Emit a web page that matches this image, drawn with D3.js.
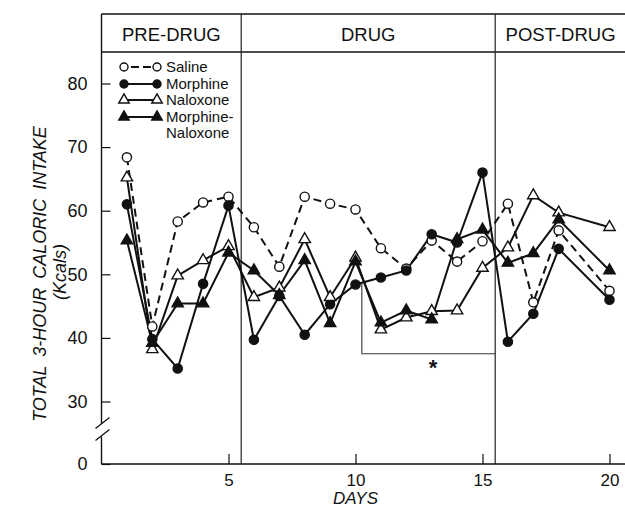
<!DOCTYPE html>
<html><head><meta charset="utf-8">
<script src="https://cdn.jsdelivr.net/npm/d3@7"></script>
<style>
html,body{margin:0;padding:0;background:#fff;}
svg{display:block;font-family:"Liberation Sans",Arial,sans-serif;}
</style></head>
<body>
<svg id="c" width="625" height="513"></svg>
<script>
// ---- data ----
const days = [1,2,3,4,5,6,7,8,9,10,11,12,13,14,15,16,17,18,20];
const saline    = [68.4,41.8,58.3,61.3,62.2,57.4,51.2,62.2,61.1,60.2,54.1,50.9,55.3,52.0,55.2,61.1,45.6,56.9,47.4];
const morphine  = [61.0,39.8,35.2,48.5,60.8,39.7,46.6,40.5,45.3,48.4,49.5,50.6,56.3,55.0,66.0,39.4,43.8,54.0,46.0];
const naloxone  = [65.2,38.2,49.8,52.2,54.4,46.4,47.9,55.5,46.4,52.6,41.3,43.2,44.2,44.3,51.0,54.2,62.4,59.7,57.4];
const morphNal  = [55.3,39.2,45.4,45.4,53.4,50.6,46.7,52.2,42.3,52.0,42.4,44.3,42.9,55.5,57.0,51.8,53.3,58.6,50.6];
const seriesNames = ["Saline","Morphine","Naloxone","Morphine-\nNaloxone"];
const yTicks = [0,30,40,50,60,70,80];
const xTicks = [5,10,15,20];
const phases = [{label:"PRE-DRUG",from:0,to:5.5},{label:"DRUG",from:5.5,to:15.5},{label:"POST-DRUG",from:15.5,to:21}];
const phaseBounds = [5.5,15.5];
const bracket = {from:10.25,to:15.5,level:37.5,top:48.5};
const starPos = {day:13.05,value:35.6};

// ---- layout ----
const svg = d3.select("#c");
const x = d3.scaleLinear().domain([0,20]).range([101.5,609.5]);
const y = d3.scaleLinear().domain([0,30,80]).range([464,401.5,83.5]);
const boxTop = 14, headBottom = 52, rightEdge = 626;

const styles = [
  {open:true, shape:"circle", dash:"8,5"},
  {open:false,shape:"circle", dash:null},
  {open:true, shape:"triangle", dash:null},
  {open:false,shape:"triangle", dash:null}
];
const data = [saline,morphine,naloxone,morphNal];

// header box
const g = svg.append("g");
g.append("line").attr("x1",x(0)).attr("x2",rightEdge).attr("y1",boxTop).attr("y2",boxTop).attr("stroke","#111").attr("stroke-width",1.3);
g.append("line").attr("x1",x(0)).attr("x2",rightEdge).attr("y1",headBottom).attr("y2",headBottom).attr("stroke","#111").attr("stroke-width",1.3);
phaseBounds.forEach(d=>{
  g.append("line").attr("x1",x(d)).attr("x2",x(d)).attr("y1",boxTop).attr("y2",y(0)).attr("stroke","#222").attr("stroke-width",1.2);
});
phases.forEach(p=>{
  const cx = p.label==="POST-DRUG" ? (x(p.from)+rightEdge)/2 : (x(p.from)+x(p.to))/2;
  g.append("text").attr("x",cx).attr("y",41).attr("text-anchor","middle")
   .attr("font-size",18.5).attr("fill","#111").text(p.label);
});

// y axis with break
const brkTop = y(30)+22, brkBot = y(30)+35;
g.append("line").attr("x1",x(0)).attr("x2",x(0)).attr("y1",boxTop).attr("y2",brkTop).attr("stroke","#111").attr("stroke-width",1.4);
g.append("line").attr("x1",x(0)).attr("x2",x(0)).attr("y1",brkBot).attr("y2",y(0)).attr("stroke","#111").attr("stroke-width",1.4);
[[0],[12]].forEach(([o])=>{
  g.append("line").attr("x1",x(0)-6).attr("y1",y(30)+27+o).attr("x2",x(0)+8).attr("y2",y(30)+16+o)
   .attr("stroke","#111").attr("stroke-width",1.3);
});
const yAxis = d3.axisLeft(y).tickValues(yTicks).tickSize(-9).tickPadding(14).tickFormat(d3.format("d"));
const ya = g.append("g").attr("transform",`translate(${x(0)},0)`).call(yAxis);
ya.select(".domain").remove();
ya.selectAll(".tick line").attr("stroke","#111").attr("stroke-width",1.2);
ya.selectAll(".tick text").attr("font-size",18).attr("fill","#111").attr("font-family","Liberation Sans, Arial, sans-serif");

// x axis
const xAxis = d3.axisBottom(x).tickValues(xTicks).tickSize(-10).tickPadding(10);
const xa = g.append("g").attr("transform",`translate(0,${y(0)})`).call(xAxis);
xa.select(".domain").remove();
g.append("line").attr("x1",x(0)).attr("x2",rightEdge).attr("y1",y(0)).attr("y2",y(0)).attr("stroke","#111").attr("stroke-width",1.4);
xa.selectAll(".tick line").attr("stroke","#111").attr("stroke-width",1.2);
xa.selectAll(".tick text").attr("font-size",17).attr("fill","#111").attr("font-family","Liberation Sans, Arial, sans-serif");

// axis titles
g.append("text").attr("transform",`translate(46,274) rotate(-90)`).attr("text-anchor","middle")
 .attr("font-size",18).attr("font-style","italic").attr("fill","#111").attr("word-spacing",4)
 .text("TOTAL 3-HOUR CALORIC INTAKE");
g.append("text").attr("transform",`translate(66,272) rotate(-90)`).attr("text-anchor","middle")
 .attr("font-size",18).attr("font-style","italic").attr("fill","#111").text("(Kcals)");
g.append("text").attr("x",x(10)).attr("y",504).attr("text-anchor","middle")
 .attr("font-size",17).attr("font-style","italic").attr("fill","#111").text("DAYS");

// significance bracket
g.append("path").attr("d",`M${x(bracket.from)},${y(bracket.top)}V${y(bracket.level)}H${x(bracket.to)}`)
 .attr("fill","none").attr("stroke","#333").attr("stroke-width",1.1);
g.append("text").attr("x",x(starPos.day)).attr("y",y(starPos.value)+9).attr("text-anchor","middle")
 .attr("font-size",22).attr("font-weight","bold").attr("fill","#111").text("*");

// series
const line = d3.line().x((d,i)=>x(days[i])).y(d=>y(d));
const tri = d3.symbol().type(d3.symbolTriangle);
function marker(sel, st, sz){
  if(st.shape==="circle"){
    sel.append("circle").attr("r",sz==="s"?4:4.6);
  } else {
    sel.append("path").attr("d",tri.size(sz==="s"?48:56)());
  }
  sel.selectAll("circle,path").attr("fill",st.open?"#fff":"#111").attr("stroke","#111").attr("stroke-width",1.4);
}
data.forEach((vals,k)=>{
  const st = styles[k];
  g.append("path").datum(vals).attr("d",line).attr("fill","none").attr("stroke","#111")
   .attr("stroke-width",2).attr("stroke-dasharray",st.dash);
});
data.forEach((vals,k)=>{
  const st = styles[k];
  vals.forEach((v,i)=>{
    const m = g.append("g").attr("transform",`translate(${x(days[i])},${y(v)})`);
    marker(m, st);
  });
});

// legend
const lg = g.append("g");
const lx1 = 124, lx2 = 157, ltx = 166;
const rowY = [67,84,100,117];
seriesNames.forEach((name,k)=>{
  const st = styles[k], yy = rowY[k];
  lg.append("line").attr("x1",lx1).attr("x2",lx2).attr("y1",yy).attr("y2",yy).attr("stroke","#111")
    .attr("stroke-width",2).attr("stroke-dasharray",st.dash?"0,7,8,4,8,10":null);
  marker(lg.append("g").attr("transform",`translate(${lx1},${yy})`), st, "s");
  marker(lg.append("g").attr("transform",`translate(${lx2},${yy})`), st, "s");
  const lines = name.split("\n");
  lines.forEach((t,j)=>{
    lg.append("text").attr("x",ltx).attr("y",yy+5+j*16).attr("font-size",15).attr("fill","#111").text(t);
  });
});
</script>
</body></html>
